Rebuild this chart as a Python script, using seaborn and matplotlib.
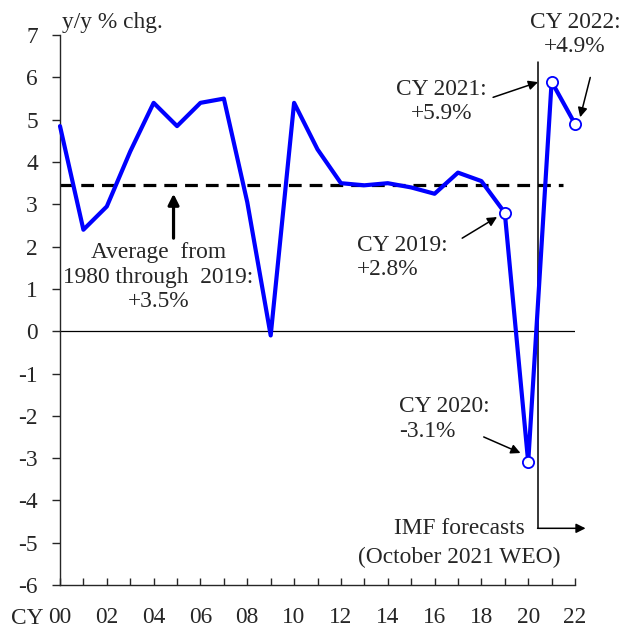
import numpy as np
import pandas as pd
import matplotlib
matplotlib.use('Agg')
import matplotlib.pyplot as plt
import seaborn as sns

# world real GDP growth, y/y % chg.
years = list(range(2000, 2023))
growth = [4.85, 2.4, 2.95, 4.25, 5.4, 4.85, 5.4, 5.5, 3.05, -0.1, 5.4, 4.3,
          3.5, 3.45, 3.5, 3.4, 3.25, 3.75, 3.55, 2.8, -3.1, 5.9, 4.9]
marked_years = [2019, 2020, 2021, 2022]
average_1980_2019 = 3.45

ytick_vals = list(range(-6, 8))
xtick_labels = [f"{y % 100:02d}" if y % 2 == 0 else "" for y in years]

df = pd.DataFrame({"year": years, "growth": growth})
marked = df[df["year"].isin(marked_years)]

FS = 16.8
LS = 1.22

sns.set_style("ticks")
plt.rcParams['font.family'] = ['Liberation Serif', 'DejaVu Serif']
plt.rcParams['font.size'] = FS

fig = plt.figure(figsize=(6.23, 6.28), dpi=100)
ax = fig.add_axes([0.0963, 0.0685, 0.8267, 0.8755])

# average line
ax.plot([2000, 2021.5], [average_1980_2019, average_1980_2019], color='black',
        lw=2.3, ls=(0, (4.0, 2.5)), zorder=2)
ax.axhline(0, color='black', lw=0.9, zorder=1)

sns.lineplot(data=df, x="year", y="growth", color=(0, 0, 1), lw=3, ax=ax,
             zorder=3, clip_on=False)
sns.scatterplot(data=marked, x="year", y="growth", color='white', edgecolor=(0, 0, 1),
                linewidth=1.3, s=65, ax=ax, zorder=4, clip_on=False)

ax.set_xlim(2000, 2022)
ax.set_ylim(-6, 7)
ax.set_yticks(ytick_vals)
ax.set_yticklabels([str(v) for v in ytick_vals])
ax.set_xticks(years)
ax.set_xticklabels(xtick_labels)
ax.tick_params(axis='y', direction='out', length=6, width=1, pad=10, labelsize=FS)
ax.tick_params(axis='x', direction='in', length=5, width=1, pad=15.5, labelsize=FS)
ax.set_xlabel("")
ax.set_ylabel("")
for s in ['top', 'right']:
    ax.spines[s].set_visible(False)
for s in ['left', 'bottom']:
    ax.spines[s].set_linewidth(1)

ax.text(2000.1, 7.05, "y/y % chg.", ha='left', va='bottom', fontsize=FS)
fig.text(0.0706, 1 - 618 / 628, "CY", ha='right', va='center', fontsize=FS)

# forecast divider
ax.plot([2020.4, 2020.4], [6.36, -4.66], color='black', lw=1.1, clip_on=False)
ax.annotate("", xy=(2022.45, -4.66), xytext=(2020.4, -4.66),
            arrowprops=dict(arrowstyle='-|>', color='black', lw=1.1,
                            mutation_scale=14, shrinkA=0, shrinkB=0),
            annotation_clip=False)
ax.text(2017.05, -4.66, "IMF forecasts", ha='center', va='center', fontsize=FS)
ax.text(2017.05, -5.34, "(October 2021 WEO)", ha='center', va='center', fontsize=FS)

# average label
ax.annotate("", xy=(2004.85, 3.25), xytext=(2004.85, 2.2),
            arrowprops=dict(arrowstyle='-|>', color='black', lw=2.3,
                            mutation_scale=16, shrinkA=0, shrinkB=0))
ax.text(2004.2, 1.28, "Average  from\n1980 through  2019:\n+3.5%", ha='center',
        va='center', fontsize=FS, linespacing=LS)

arrow_kw = dict(arrowstyle='-|>', color='black', lw=1.1, mutation_scale=14,
                shrinkA=0, shrinkB=0)

ax.annotate("", xy=(2018.67, 2.7), xytext=(2017.18, 2.2), arrowprops=arrow_kw)
ax.text(2012.7, 1.74, "CY 2019:\n+2.8%", ha='left', va='center', fontsize=FS,
        linespacing=LS)

ax.annotate("", xy=(2019.67, -2.88), xytext=(2018.1, -2.5), arrowprops=arrow_kw)
ax.text(2014.5, -2.08, "CY 2020:\n-3.1%", ha='left', va='center', fontsize=FS,
        linespacing=LS)

ax.annotate("", xy=(2020.42, 5.89), xytext=(2018.5, 5.53), arrowprops=arrow_kw)
ax.text(2016.3, 5.43, "CY 2021:\n+5.9%", ha='center', va='center', fontsize=FS,
        linespacing=LS)

ax.annotate("", xy=(2022.22, 5.06), xytext=(2022.65, 6.0), arrowprops=arrow_kw,
            annotation_clip=False)
ax.text(2022.0, 7.02, "CY 2022:\n+4.9%", ha='center', va='center', fontsize=FS,
        linespacing=LS, clip_on=False)

fig.savefig("out.png", dpi=100)
